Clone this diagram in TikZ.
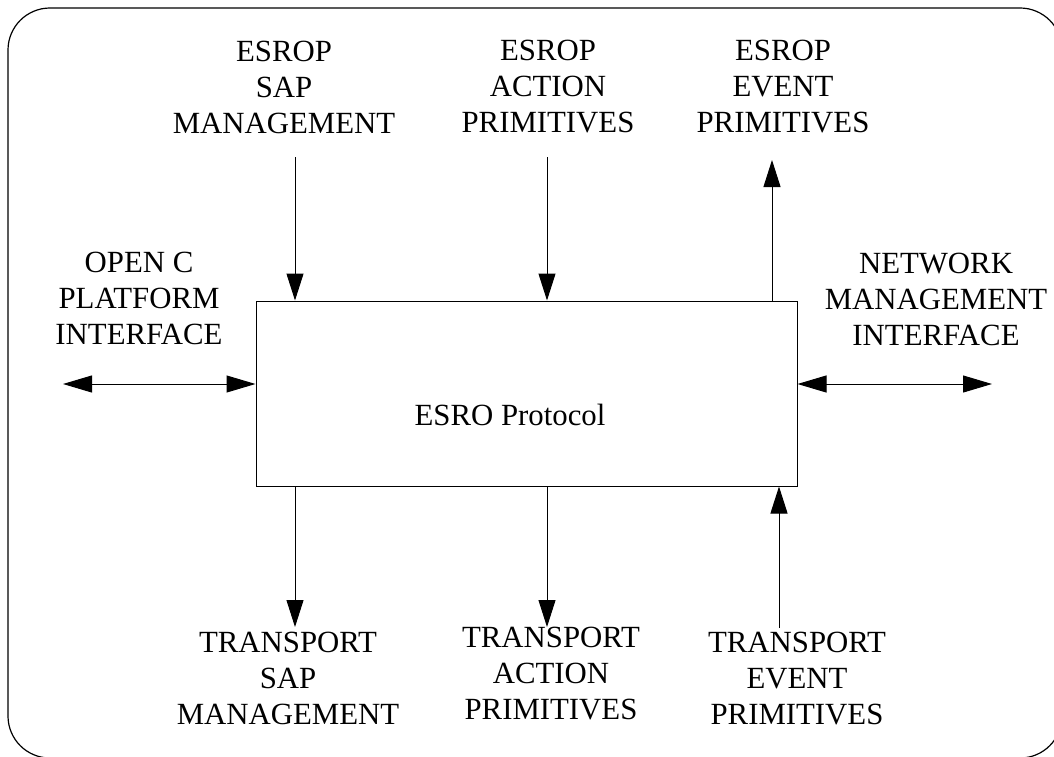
\documentclass[tikz,border=0pt]{standalone}
\usepackage{fontspec}
\setmainfont{Liberation Serif}
\usetikzlibrary{arrows.meta}
\begin{document}
\begin{tikzpicture}[x=1pt,y=-1pt,
  lbl/.style={align=center,inner sep=0pt,font=\fontsize{30.8}{36}\selectfont},
  arr/.style={line width=1pt,-{Triangle[length=27pt,width=17pt]}},
  dblarr/.style={line width=1pt,{Triangle[length=29pt,width=17pt]}-{Triangle[length=29pt,width=17pt]}},
  frame/.style={line width=1.2pt,rounded corners=42pt},
  mainbox/.style={draw,line width=1pt,minimum width=541pt,minimum height=185pt,inner sep=0pt}]
\useasboundingbox (0,0) rectangle (1054,757);
\draw[frame] (8,8) rectangle (1062,758);
\node[mainbox] (esro) at (526.5,393.5) {};
\node[lbl,anchor=base] (esrot) at (510,425) {ESRO Protocol};
% labels
\node[lbl] (sapTop) at (284,87) {ESROP\\SAP\\MANAGEMENT};
\node[lbl] (actTop) at (548,87) {ESROP\\ACTION\\PRIMITIVES};
\node[lbl] (evtTop) at (783,87) {ESROP\\EVENT\\PRIMITIVES};
\node[lbl] (openc) at (139,298) {OPEN C\\PLATFORM\\INTERFACE};
\node[lbl] (netm) at (936,299) {NETWORK\\MANAGEMENT\\INTERFACE};
\node[lbl] (sapBot) at (288,678) {TRANSPORT\\SAP\\MANAGEMENT};
\node[lbl] (actBot) at (551,674) {TRANSPORT\\ACTION\\PRIMITIVES};
\node[lbl] (evtBot) at (797,679) {TRANSPORT\\EVENT\\PRIMITIVES};
% connector end points
\coordinate (tA) at (295,157);
\coordinate (tB) at (547,157);
\coordinate (tC) at (772,160);
\coordinate (bA) at (295,627);
\coordinate (bB) at (547,627);
\coordinate (bC) at (779,628);
\coordinate (lL) at (63,384);
\coordinate (rR) at (992,384);
% connectors
\draw[arr] (tA) -- (tA |- esro.north);
\draw[arr] (tB) -- (tB |- esro.north);
\draw[arr] (tC |- esro.north) -- (tC);
\draw[arr] (bA |- esro.south) -- (bA);
\draw[arr] (bB |- esro.south) -- (bB);
\draw[arr] (bC) -- (bC |- esro.south);
\draw[dblarr] (lL) -- (lL -| esro.west);
\draw[dblarr] (rR -| esro.east) -- (rR);
\end{tikzpicture}
\end{document}
